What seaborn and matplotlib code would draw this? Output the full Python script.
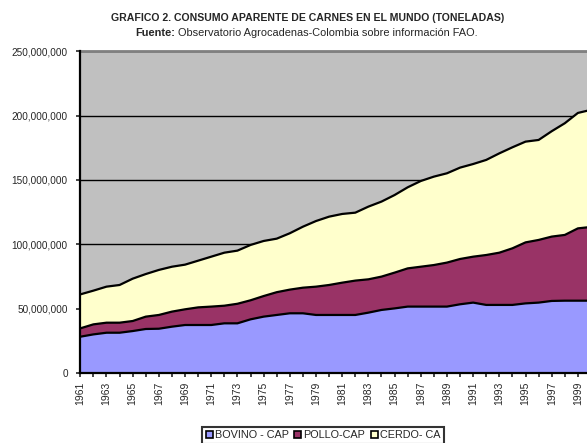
import numpy as np
import pandas as pd
import matplotlib
matplotlib.use("Agg")
import matplotlib.pyplot as plt
import seaborn as sns
from matplotlib.patches import Patch
from matplotlib.ticker import FuncFormatter

# ---- data (millions of tonnes) ----
years = list(range(1961, 2001))
bovino = [28.2, 30.0, 31.3, 31.3, 32.6, 34.2, 34.4, 36.0, 37.3, 37.3,
          37.3, 38.6, 38.6, 41.7, 43.8, 45.1, 46.4, 46.4, 45.1, 45.1,
          45.1, 45.1, 46.9, 49.0, 50.2, 51.6, 51.6, 51.6, 51.6, 53.4,
          54.7, 52.9, 52.9, 52.9, 54.1, 54.7, 56.0, 56.2, 56.2, 56.2]
pollo = [6.5, 7.8, 7.8, 7.8, 7.8, 9.6, 10.7, 11.7, 12.2, 13.7,
         14.3, 13.7, 15.2, 14.8, 16.0, 17.7, 18.4, 19.9, 22.0, 23.3,
         25.1, 26.7, 25.9, 25.9, 27.8, 29.7, 31.0, 32.3, 34.2, 35.2,
         35.7, 38.8, 40.6, 44.0, 47.4, 48.7, 50.0, 51.1, 56.2, 57.3]
cerdo = [26.4, 26.2, 28.0, 29.3, 32.9, 33.1, 35.0, 34.9, 34.7, 36.3,
         38.8, 41.2, 41.3, 43.0, 42.8, 41.6, 43.8, 47.4, 51.0, 53.1,
         53.4, 52.8, 56.5, 58.3, 60.3, 63.0, 66.6, 68.7, 69.4, 71.0,
         72.0, 73.9, 77.2, 78.5, 78.3, 77.7, 81.9, 86.8, 89.7, 91.0]
series_names = ["BOVINO - CAP", "POLLO-CAP", "CERDO- CA"]
colors = ["#9999FF", "#993366", "#FFFFCC"]

sns.set_style("white")
plt.rcParams["font.family"] = ["Liberation Sans", "DejaVu Sans"]

df = pd.DataFrame({"year": years,
                   series_names[0]: np.array(bovino) * 1e6,
                   series_names[1]: np.array(pollo) * 1e6,
                   series_names[2]: np.array(cerdo) * 1e6})
cum = df[series_names].cumsum(axis=1)

W, H = 587, 443
fig = plt.figure(figsize=(W / 100, H / 100), dpi=100)
left_px, right_px, top_px, bot_px = 80.3, 591.0, 51.3, 373.0
ax = fig.add_axes([left_px / W, 1 - bot_px / H,
                   (right_px - left_px) / W, (bot_px - top_px) / H])
ax.set_facecolor("#C0C0C0")

lower = np.zeros(len(years))
for name, c in zip(series_names, colors):
    upper = cum[name].values
    ax.fill_between(df["year"], lower, upper, facecolor=c, edgecolor="none",
                    zorder=2)
    lower = upper

for name in series_names:
    sns.lineplot(x=df["year"], y=cum[name], ax=ax, color="black",
                 linewidth=1.6, zorder=3, legend=False)

ax.set_xlim(1961, 2000)
ax.set_ylim(0, 250e6)
ax.set_yticks(np.arange(0, 250e6 + 1, 50e6))
ax.yaxis.set_major_formatter(FuncFormatter(lambda v, p: f"{v:,.0f}"))
ax.yaxis.grid(True, color="black", linewidth=1.0, zorder=1)
ax.set_axisbelow(True)
ax.set_xticks(years)
ax.set_xticklabels([str(y) if (y - 1961) % 2 == 0 else "" for y in years],
                   rotation=90, fontsize=7.5)
ax.tick_params(axis="y", labelsize=7.2, length=3, width=1.2,
               direction="out", left=True, pad=6)
ax.tick_params(axis="x", length=3, width=1.2, direction="out", bottom=True,
               pad=3)
ax.set_xlabel("")
ax.set_ylabel("")

for s in ["left", "bottom"]:
    ax.spines[s].set_color("black")
    ax.spines[s].set_linewidth(1.6)
    ax.spines[s].set_zorder(5)
ax.spines["top"].set_color("#808080")
ax.spines["top"].set_linewidth(2)
ax.spines["right"].set_visible(False)

fig.text(308 / W, 1 - 18 / H,
         "GRAFICO 2. CONSUMO APARENTE DE CARNES EN EL MUNDO (TONELADAS)",
         ha="center", va="center", fontsize=7.6, fontweight="bold")
fig.text(175 / W, 1 - 32.5 / H, "Fuente:", ha="right", va="center",
         fontsize=7.9, fontweight="bold")
fig.text(178 / W, 1 - 32.5 / H,
         "Observatorio Agrocadenas-Colombia sobre información FAO.",
         ha="left", va="center", fontsize=7.9)

handles = [Patch(facecolor=c, edgecolor="black", linewidth=1.2, label=n)
           for n, c in zip(series_names, colors)]
leg = fig.legend(handles=handles, loc="center",
                 bbox_to_anchor=(323 / W, 1 - 435.5 / H), ncol=3,
                 fontsize=7.8, frameon=True, fancybox=False,
                 handlelength=0.65, handleheight=0.65, handletextpad=0.2,
                 columnspacing=0.5, borderpad=0.3, borderaxespad=0)
leg.get_frame().set_edgecolor("black")
leg.get_frame().set_linewidth(1.5)

fig.savefig("out.png", dpi=100, facecolor="white")
